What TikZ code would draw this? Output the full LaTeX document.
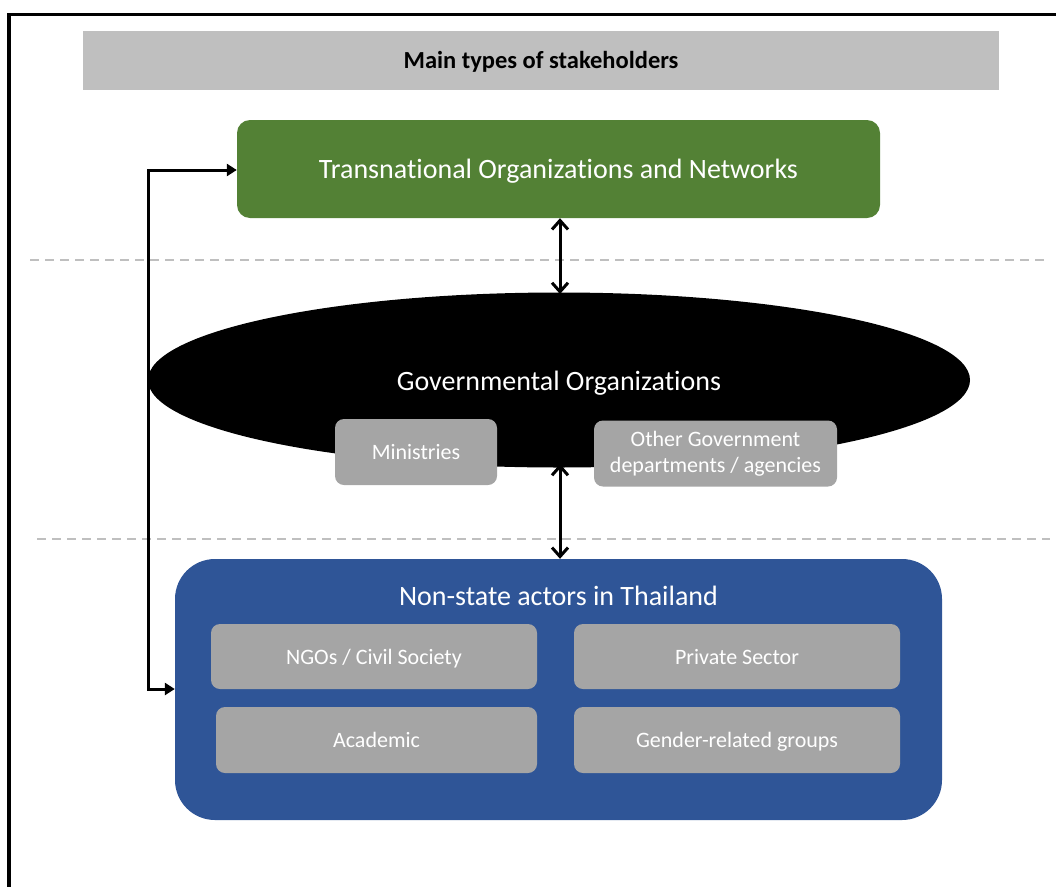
\documentclass[tikz,border=0pt]{standalone}
\usepackage{fontspec}
\setmainfont[Ligatures=NoCommon]{Carlito}
\usetikzlibrary{arrows.meta,shapes.geometric}
\definecolor{titlegray}{HTML}{BFBFBF}
\definecolor{boxgray}{HTML}{A5A5A5}
\definecolor{tgreen}{HTML}{538135}
\definecolor{tblue}{HTML}{2F5597}
\tikzset{
  px/.style={x=1pt,y=-1pt},
  bigtext/.style={text=white, font=\fontsize{28}{32}\selectfont},
  subbox/.style={fill=boxgray, rounded corners=9pt, text=white, font=\fontsize{22}{26}\selectfont, align=center, inner sep=0pt},
  oneline/.style={text height=17pt, text depth=2pt},
  sep/.style={draw=titlegray, line width=1.5pt, dash pattern=on 9pt off 6pt},
  dbl/.style={line width=3pt, {Straight Barb[length=9pt,width=16pt,line width=3pt]}-{Straight Barb[length=9pt,width=16pt,line width=3pt]}},
  elbow/.style={line width=3pt, {Triangle[length=10pt,width=12pt]}-{Triangle[length=10pt,width=12pt]}},
}
\begin{document}
\begin{tikzpicture}[px]
\useasboundingbox (0,0) rectangle (1056,886);
\begin{scope}
\clip (0,0) rectangle (1056,886);
\draw[line width=3.5pt] (9,900) -- (9,14.5) -- (1070,14.5);
\end{scope}
% title
\node[fill=titlegray, minimum width=916pt, minimum height=59pt, inner sep=0pt] (title) at (541,60.5) {};
\node[font=\bfseries\fontsize{24.5}{28}\selectfont, text height=17pt, text depth=4pt] (titlet) at (541,62) {Main types of stakeholders};
% transnational
\node[fill=tgreen, rounded corners=13pt, minimum width=643pt, minimum height=98pt, inner sep=0pt] (trans) at (558.5,169) {};
\node[bigtext] (transt) at (558.5,171) {Transnational Organizations and Networks};
% dashed separators
\coordinate (s1a) at (30,260); \coordinate (s1b) at (1045,260);
\coordinate (s2a) at (37,539); \coordinate (s2b) at (1050,539);
\draw[sep] (s1a) -- (s1b);
\draw[sep] (s2a) -- (s2b);
% ellipse
\node[ellipse, fill=black, minimum width=822pt, minimum height=175pt, inner sep=0pt] (gov) at (559,380) {};
\node[bigtext] (govt) at (559,383) {Governmental Organizations};
\node[subbox, oneline, minimum width=162pt, minimum height=66pt] (min) at (416,452) {Ministries};
\node[subbox, minimum width=243pt, minimum height=66pt] (oth) at (715.5,453.5) {Other Government\\departments / agencies};
% non-state
\node[fill=tblue, rounded corners=40pt, minimum width=767pt, minimum height=261pt, inner sep=0pt] (ns) at (558.5,689.5) {};
\node[bigtext] (nst) at (558.5,596) {Non-state actors in Thailand};
\node[subbox, oneline, minimum width=326pt, minimum height=65pt] (ngo) at (374,656.5) {NGOs / Civil Society};
\node[subbox, oneline, minimum width=326pt, minimum height=65pt] (priv) at (737,656.5) {Private Sector};
\node[subbox, oneline, minimum width=321pt, minimum height=66pt] (acad) at (376.5,740) {Academic};
\node[subbox, oneline, minimum width=326pt, minimum height=66pt] (gend) at (737,740) {Gender-related groups};
% arrows
\draw[dbl] (trans.south -| 560,0) -- (560,294);
\draw[dbl] (560,464) -- (ns.north -| 560,0);
\coordinate (c1) at (148,170);
\coordinate (c2) at (148,689);
\draw[elbow] (trans.west |- c1) -- (c1) -- (c2) -- (ns.west |- c2);
\end{tikzpicture}
\end{document}
